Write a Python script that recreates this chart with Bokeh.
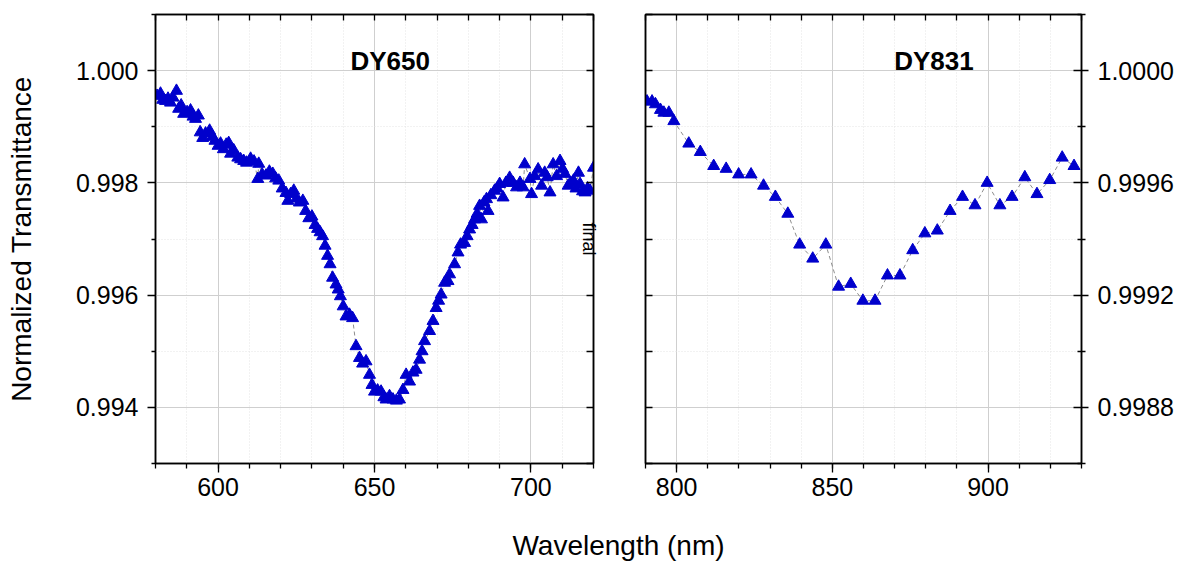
import math
from bokeh.plotting import figure
from bokeh.models import FixedTicker, Range1d, Label, NumeralTickFormatter, LinearAxis, ColumnDataSource
from bokeh.layouts import row, column
from bokeh.embed import file_html
from bokeh.resources import INLINE
from bokeh.core.properties import value

FONT = "Liberation Sans"

# ---------------- data ----------------
dy650_nm = [580.5, 581.6, 582.3, 583.2, 584.0, 584.8, 585.6, 586.7, 587.4, 588.2, 589.0, 590.1,
            591.2, 592.0, 592.8, 593.7, 594.3, 595.1, 596.0, 597.3, 598.2, 599.0, 600.0, 600.8,
            601.7, 602.6, 603.4, 604.0, 605.0, 606.3, 607.2, 608.2, 609.1, 610.4, 611.5, 612.7,
            613.0, 614.1, 615.3, 616.4, 617.5, 618.4, 619.4, 620.5, 621.7, 622.3, 623.2, 624.2,
            625.1, 626.0, 627.1, 628.0, 629.0, 630.0, 631.0, 631.8, 632.6, 633.4, 634.2, 635.0,
            635.8, 636.6, 637.7, 638.4, 639.1, 640.0, 640.9, 642.0, 643.0, 644.1, 645.2, 646.2,
            647.3, 648.4, 649.2, 650.0, 651.0, 652.1, 653.0, 653.7, 654.8, 655.9, 657.0, 658.0,
            659.1, 660.1, 661.2, 662.3, 663.3, 664.4, 665.2, 666.0, 667.6, 668.7, 669.7, 670.5,
            671.3, 672.4, 673.5, 674.0, 675.6, 676.7, 677.5, 678.8, 679.6, 680.4, 681.2, 682.0,
            682.8, 683.6, 684.2, 685.0, 685.8, 686.3, 687.2, 688.4, 689.2, 690.0, 691.1, 692.0,
            693.2, 694.3, 695.4, 696.5, 697.5, 698.0, 699.7, 700.2, 701.2, 702.3, 703.4, 704.4,
            705.2, 706.1, 707.1, 708.2, 709.3, 710.1, 710.9, 711.9, 712.7, 713.6, 714.4, 715.2,
            715.7, 716.5, 717.3, 718.1, 718.9, 720.0]
dy650_t = [0.99955, 0.99959, 0.99948, 0.99946, 0.99950, 0.99943, 0.99952, 0.99964, 0.99932, 0.99938, 0.99923, 0.99926,
           0.99929, 0.99918, 0.99914, 0.99920, 0.99890, 0.99880, 0.99888, 0.99893, 0.99882, 0.99875, 0.99866, 0.99870,
           0.99860, 0.99868, 0.99871, 0.99852, 0.99858, 0.99845, 0.99842, 0.99839, 0.99836, 0.99843, 0.99838, 0.99807,
           0.99834, 0.99815, 0.99813, 0.99820, 0.99816, 0.99808, 0.99804, 0.99790, 0.99782, 0.99768, 0.99780, 0.99786,
           0.99772, 0.99765, 0.99768, 0.99750, 0.99737, 0.99740, 0.99725, 0.99718, 0.99712, 0.99705, 0.99688, 0.99670,
           0.99655, 0.99631, 0.99619, 0.99610, 0.99598, 0.99580, 0.99562, 0.99565, 0.99559, 0.99509, 0.99488, 0.99478,
           0.99482, 0.99458, 0.99440, 0.99428, 0.99430, 0.99428, 0.99418, 0.99414, 0.99420, 0.99414, 0.99412, 0.99414,
           0.99431, 0.99458, 0.99446, 0.99462, 0.99467, 0.99485, 0.99500, 0.99518, 0.99536, 0.99554, 0.99577, 0.99590,
           0.99601, 0.99622, 0.99625, 0.99637, 0.99655, 0.99676, 0.99690, 0.99693, 0.99705, 0.99717, 0.99725, 0.99735,
           0.99745, 0.99759, 0.99735, 0.99765, 0.99771, 0.99750, 0.99778, 0.99786, 0.99790, 0.99798, 0.99774, 0.99800,
           0.99809, 0.99800, 0.99792, 0.99800, 0.99792, 0.99833, 0.99807, 0.99780, 0.99812, 0.99824, 0.99795, 0.99818,
           0.99810, 0.99783, 0.99833, 0.99812, 0.99839, 0.99825, 0.99816, 0.99795, 0.99800, 0.99804, 0.99790, 0.99818,
           0.99798, 0.99785, 0.99783, 0.99790, 0.99786, 0.99827]

dy831_nm = [790.5, 792.1, 793.2, 794.8, 795.9, 797.5, 799.1, 803.9, 807.6, 811.9, 815.9, 819.9,
            823.9, 827.9, 831.7, 835.7, 839.5, 843.7, 847.9, 852.0, 855.9, 859.8, 863.7, 867.7,
            871.7, 875.8, 879.7, 883.7, 887.8, 891.8, 895.8, 899.7, 903.8, 907.7, 911.8, 915.7,
            919.8, 923.8, 927.6]
dy831_t = [0.99989, 0.99989, 0.99988, 0.99986, 0.99985, 0.99985, 0.99982, 0.99974, 0.99971, 0.99966, 0.99965, 0.99963,
           0.99963, 0.99959, 0.99955, 0.99949, 0.99938, 0.99933, 0.99938, 0.99923, 0.99924, 0.99918, 0.99918, 0.99927,
           0.99927, 0.99936, 0.99942, 0.99943, 0.99950, 0.99955, 0.99952, 0.99960, 0.99952, 0.99955, 0.99962, 0.99956,
           0.99961, 0.99969, 0.99966]

titles = ["DY650", "DY831"]
x_title = "Wavelength (nm)"
y_title = "Normalized Transmittance"
right_title = "final"

left_x_major = [600, 650, 700]
left_x_minor = list(range(580, 721, 10))
left_y_major = [0.994, 0.996, 0.998, 1.000]
left_y_minor = [0.993, 0.995, 0.997, 0.999, 1.001]
right_x_major = [800, 850, 900]
right_x_minor = list(range(790, 931, 10))
right_y_major = [0.9988, 0.9992, 0.9996, 1.0000]
right_y_minor = [0.9986, 0.9990, 0.9994, 0.9998, 1.0002]

BLUE = "#0000cc"
TICK_FS = "25px"
ROW_H = 505


def style_axis(ax, tick_in, tick_out, minor_in, minor_out, standoff=9):
    ax.axis_line_color = "black"
    ax.axis_line_width = 1.5
    ax.major_tick_line_color = "black"
    ax.minor_tick_line_color = "black"
    ax.major_tick_line_width = 1.3
    ax.minor_tick_line_width = 1.3
    ax.major_tick_in = tick_in
    ax.major_tick_out = tick_out
    ax.minor_tick_in = minor_in
    ax.minor_tick_out = minor_out
    ax.major_label_text_font = FONT
    ax.major_label_text_color = "black"
    ax.major_label_text_font_size = TICK_FS
    ax.major_label_standoff = standoff


def bare_axis(ticks, tick_in):
    # tick marks only (drawn as minor ticks so that no label texts are produced)
    ax = LinearAxis(ticker=FixedTicker(ticks=[], minor_ticks=ticks))
    ax.axis_line_color = "black"
    ax.axis_line_width = 1.5
    ax.major_tick_line_color = None
    ax.minor_tick_line_color = "black"
    ax.minor_tick_line_width = 1.3
    ax.minor_tick_in = tick_in
    ax.minor_tick_out = 0
    ax.major_label_standoff = 0
    return ax


def panel(width, xr, yr, xmaj, xmin, ymaj, ymin, fmt, bl, br, nm, t, left_labels):
    loc = "left" if left_labels else "right"
    p = figure(width=width, height=ROW_H, x_range=Range1d(*xr), y_range=Range1d(*yr),
               output_backend="svg", toolbar_location=None, y_axis_location=loc,
               min_border_left=bl, min_border_right=br, min_border_top=14,
               min_border_bottom=ROW_H - 463,
               background_fill_color="white", border_fill_color="white",
               outline_line_color="black", outline_line_width=1.5)
    xt = FixedTicker(ticks=xmaj, minor_ticks=xmin)
    yt = FixedTicker(ticks=ymaj, minor_ticks=ymin)
    p.xgrid.ticker = xt
    p.ygrid.ticker = yt
    for g in (p.xgrid[0], p.ygrid[0]):
        g.grid_line_color = "#cfcfcf"
        g.grid_line_width = 1
        g.minor_grid_line_color = "#e4e4e4"
        g.minor_grid_line_dash = "1 2"
        g.minor_grid_line_width = 1
    # bottom axis with labels
    bx = p.xaxis[0]
    bx.ticker = xt
    style_axis(bx, 0, 9, 0, 5, standoff=5)
    # labelled y axis
    ly = p.yaxis[0]
    ly.ticker = yt
    ly.formatter = NumeralTickFormatter(format=fmt)
    if left_labels:
        style_axis(ly, 0, 8, 0, 4, standoff=9)
        ly.axis_label = y_title
        ly.axis_label_text_font = FONT
        ly.axis_label_text_font_style = "normal"
        ly.axis_label_text_font_size = "28px"
        ly.axis_label_standoff = 36
        ly.axis_label_text_color = "black"
        rax = bare_axis(ymaj + ymin, 7)
        rax.axis_label = right_title
        rax.axis_label_text_font = FONT
        rax.axis_label_text_font_style = "normal"
        rax.axis_label_text_font_size = "18px"
        rax.axis_label_text_color = "black"
        rax.axis_label_standoff = -15
        p.add_layout(rax, "right")
    else:
        style_axis(ly, 8, 7, 4, 4, standoff=9)
        p.add_layout(bare_axis(ymaj + ymin, 7), "left")
    p.add_layout(bare_axis(xmin, 6), "above")

    src = ColumnDataSource(dict(x=nm, y=t))
    p.line("x", "y", source=src, line_color="#808080", line_width=0.9, line_dash="4 3")
    p.scatter("x", "y", source=src, marker="triangle", size=12,
              fill_color=BLUE, line_color=BLUE)
    return p


p1 = panel(620, (580, 720), (0.993, 1.001), left_x_major, left_x_minor, left_y_major, left_y_minor,
           "0.000", 155, 27, dy650_nm, dy650_t, True)
p2 = panel(557, (790, 930), (0.9986, 1.0002), right_x_major, right_x_minor, right_y_major, right_y_minor,
           "0.0000", 25, 96, dy831_nm, dy831_t, False)

p1.add_layout(Label(x=655, y=1.00018, text=titles[0], text_font=FONT, text_font_style="bold",
                    text_font_size="26px", text_align="center", text_baseline="middle", text_color="black"))
p2.add_layout(Label(x=882.6, y=1.000036, text=titles[1], text_font=FONT, text_font_style="bold",
                    text_font_size="26px", text_align="center", text_baseline="middle", text_color="black"))

# shared x-axis title strip
STRIP_H = 58
p3 = figure(width=1177, height=STRIP_H, x_range=Range1d(0, 1177), y_range=Range1d(ROW_H + STRIP_H, ROW_H),
            output_backend="svg", toolbar_location=None, x_axis_location=None, y_axis_location=None,
            min_border_left=0, min_border_right=0, min_border_top=0, min_border_bottom=0,
            outline_line_color=None, background_fill_color="white", border_fill_color="white")
p3.grid.visible = False
p3.text(x=[618], y=[545], text=[x_title], text_font=value(FONT), text_font_size="28px",
        text_align="center", text_baseline="middle", text_color="black")

layout = column(row(p1, p2), p3)
open("out.html", "w").write(file_html(layout, INLINE))
